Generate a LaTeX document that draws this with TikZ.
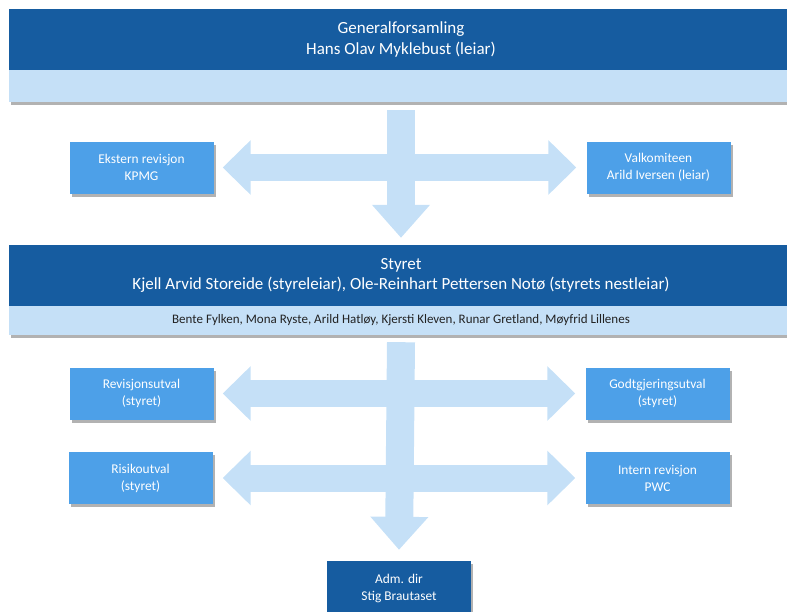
\documentclass[tikz,border=0pt]{standalone}
\usepackage{fontspec}
\setmainfont{Carlito}
\usetikzlibrary{arrows.meta,shadows}
\definecolor{boarddark}{HTML}{165CA0}
\definecolor{boardlight}{HTML}{C5E0F7}
\definecolor{unitblue}{HTML}{4DA0E8}
\definecolor{flowblue}{HTML}{C5E0F7}
\definecolor{membertext}{HTML}{222222}

\tikzset{
  boxshadow/.style={drop shadow={shadow xshift=2pt, shadow yshift=-3pt, fill=black, opacity=0.3}},
  bar/.style={fill=boarddark, text=white, minimum width=784, inner sep=0, align=center, font=\fontsize{17}{20.5}\selectfont},
  band/.style={fill=boardlight, text=membertext, minimum width=784, inner sep=0, boxshadow},
  unit/.style={fill=unitblue, text=white, minimum width=144, minimum height=52, inner sep=0, align=center, font=\fontsize{13.4}{17}\selectfont, boxshadow},
  flowdown/.style={flowblue, line width=28pt, -{Triangle[length=33pt,width=56pt]}},
  flowside/.style={flowblue, line width=27pt, {Triangle[length=28pt,width=53pt]}-{Triangle[length=28pt,width=53pt]}},
}

\begin{document}
\begin{tikzpicture}[x=1pt, y=-1pt]
\useasboundingbox (0,0) rectangle (787,611);

% general meeting
\node[band, minimum height=32] (gfband) at (401,86) {};
\node[bar, minimum height=61] (gf) at (401,39.5) {Generalforsamling\\Hans Olav Myklebust (leiar)};

\node[unit] (ekst) at (141.5,167.5) {Ekstern revisjon\\KPMG};
\node[unit] (valk) at (658.5,167.5) {Valkomiteen\\Arild Iversen (leiar)};

% board
\node[band, minimum height=29, font=\fontsize{13}{15}\selectfont] (members) at (401,320.5) {Bente Fylken, Mona Ryste, Arild Hatløy, Kjersti Kleven, Runar Gretland, Møyfrid Lillenes};
\node[bar, minimum height=61] (styret) at (401,275.5) {Styret\\Kjell Arvid Storeide (styreleiar), Ole-Reinhart Pettersen Notø (styrets nestleiar)};

\node[unit] (rev) at (141.5,393.5) {Revisjonsutval\\(styret)};
\node[unit] (godt) at (657.5,393.5) {Godtgjeringsutval\\(styret)};
\node[unit] (risk) at (140.5,478) {Risikoutval\\(styret)};
\node[unit] (intern) at (657.5,478) {Intern revisjon\\PWC};

\node[unit, fill=boarddark, minimum height=54] (adm) at (399,588) {Adm. dir\\Stig Brautaset};

% flow arrows
\draw[flowdown] ([yshift=-8pt]gfband.south) -- ([yshift=7pt]styret.north);
\draw[flowside] ([xshift=9pt]ekst.east) -- ([xshift=-10pt]valk.west);

\draw[flowdown] ([yshift=-7pt]members.south) -- ([yshift=11pt]adm.north);
\draw[flowside] ([xshift=9pt]rev.east) -- ([xshift=-10pt]godt.west);
\draw[flowside] ([xshift=10pt]risk.east) -- ([xshift=-10pt]intern.west);
\end{tikzpicture}
\end{document}
